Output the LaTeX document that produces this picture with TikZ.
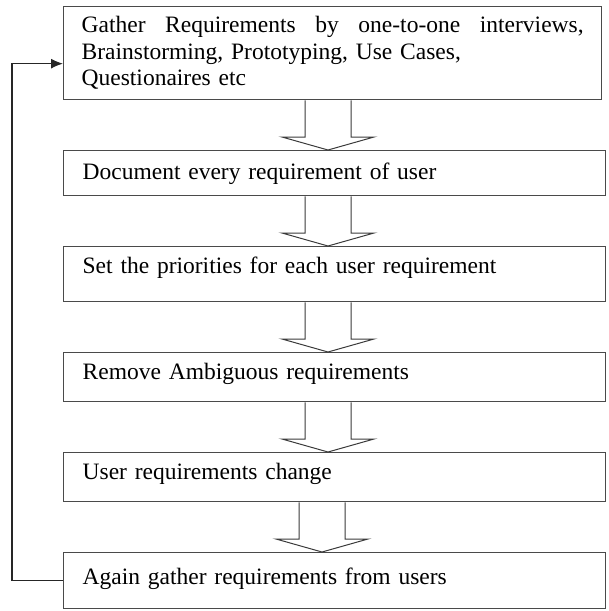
\documentclass[tikz,border=0pt]{standalone}
\usepackage{fontspec}
\setmainfont{Liberation Serif}
\usetikzlibrary{arrows.meta}
\setlength{\parindent}{0pt}
\definecolor{boxgray}{HTML}{4A4A4A}
\definecolor{arrowgray}{HTML}{3A3A3A}
\newcommand{\blkarrow}[3]{%
  \draw[blockarrow] ([xshift=#3pt-23pt]#1.south west)
    -- ([xshift=#3pt-23pt,yshift=13pt]#2.north west)
    -- ([xshift=#3pt-46pt,yshift=13pt]#2.north west)
    -- ([xshift=#3pt]#2.north west)
    -- ([xshift=#3pt+46pt,yshift=13pt]#2.north west)
    -- ([xshift=#3pt+23pt,yshift=13pt]#2.north west)
    -- ([xshift=#3pt+23pt]#1.south west);}
\begin{document}
\begin{tikzpicture}[x=1pt,y=-1pt,
  box/.style={draw=boxgray, line width=1.3pt, anchor=north west, inner xsep=19pt,
    inner ysep=0pt, text width=504pt, align=left, minimum width=542pt,
    font=\fontsize{23.5}{26.5}\selectfont},
  blockarrow/.style={draw=arrowgray, line width=1pt, line join=miter},
  feedback/.style={draw=black!85, line width=1.2pt, -{Latex[length=12pt,width=10pt]}}]
\useasboundingbox (0,0) rectangle (609,611);
\node[box, text width=502pt, minimum width=538pt, minimum height=93pt, inner xsep=18pt] (b1) at (63,6)
  {\noindent\hbox to 502pt{Gather\hfill Requirements\hfill by\hfill one-to-one\hfill interviews,}\\
   Brainstorming, Prototyping, Use Cases,\\
   Questionaires etc};
\node[box, text height=29pt, text depth=16pt] (b2) at (63,150) {Document every requirement of user};
\node[box, text height=27pt, text depth=28pt] (b3) at (63,246) {Set the priorities for each user requirement};
\node[box, text height=27pt, text depth=22pt] (b4) at (63,352) {Remove Ambiguous requirements};
\node[box, text height=27pt, text depth=22pt] (b5) at (63,452) {User requirements change};
\node[box, text height=32pt, text depth=24pt] (b6) at (63,552) {Again gather requirements from users};
\blkarrow{b1}{b2}{265}
\blkarrow{b2}{b3}{265}
\blkarrow{b3}{b4}{265}
\blkarrow{b4}{b5}{265}
\blkarrow{b5}{b6}{259}
\coordinate (fbx) at (12,0);
\draw[feedback] (b6.west) -- (b6.west -| fbx) |- ([yshift=-10.5pt]b1.west);
\end{tikzpicture}
\end{document}
